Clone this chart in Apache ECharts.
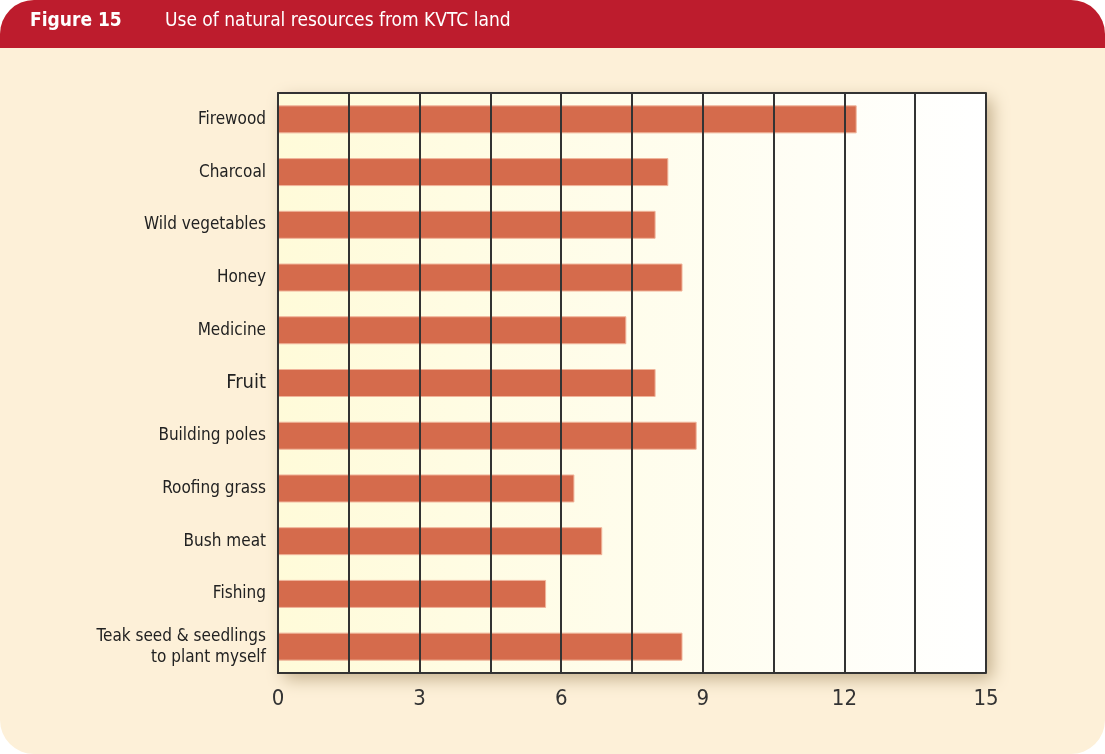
<!DOCTYPE html>
<html>
<head>
<meta charset="utf-8">
<script src="https://cdn.jsdelivr.net/npm/echarts@6/dist/echarts.min.js"></script>
<style>
  html, body { margin: 0; padding: 0; background: #fff; }
  #chart { width: 1105px; height: 754px; }
</style>
</head>
<body>
<div id="chart"></div>
<script>
const categories = [
  "Firewood", "Charcoal", "Wild vegetables", "Honey", "Medicine", "Fruit",
  "Building poles", "Roofing grass", "Bush meat", "Fishing",
  "Teak seed & seedlings\nto plant myself"
];
const values = [12.26, 8.27, 8.0, 8.57, 7.38, 8.0, 8.87, 6.28, 6.87, 5.68, 8.57];
const xTicks = [0, 3, 6, 9, 12, 15];

const font = "'Liberation Sans Narrow', 'DejaVu Sans Condensed', sans-serif";
const chart = echarts.init(document.getElementById("chart"));

const frameLine = {show: true, lineStyle: {color: "#333", width: 2}};

const option = {
  animation: false,
  graphic: [
    {
      type: "rect", z: -10, silent: true,
      shape: {x: 0, y: 0, width: 1105, height: 754, r: 34},
      style: {fill: "#fdf0d8"}
    },
    {
      type: "rect", z: -9, silent: true,
      shape: {x: 0, y: 0, width: 1105, height: 48, r: [34, 34, 0, 0]},
      style: {fill: "#bd1c2d"}
    },
    {
      type: "text", left: 30, top: 12, z: 10,
      style: {text: "Figure 15", fill: "#fff", font: "bold 19px " + font}
    },
    {
      type: "text", left: 165, top: 12, z: 10,
      style: {text: "Use of natural resources from KVTC land", fill: "#fff", font: "19px " + font}
    }
  ],
  grid: {
    left: 278, right: 119, top: 93, bottom: 81,
    show: true,
    borderWidth: 0,
    backgroundColor: {
      type: "linear", x: 0, y: 0, x2: 1, y2: 0,
      colorStops: [{offset: 0, color: "#fffbd9"}, {offset: 1, color: "#ffffff"}]
    },
    shadowColor: "rgba(110,80,30,0.4)", shadowBlur: 16, shadowOffsetX: 6, shadowOffsetY: 6
  },
  xAxis: [
    {
      type: "value", min: 0, max: 15, interval: 1.5, z: 5,
      axisLine: frameLine,
      axisTick: {show: false},
      splitLine: {show: true, lineStyle: {color: "#333", width: 2}},
      axisLabel: {
        margin: 15, color: "#333", fontSize: 22, fontFamily: font,
        formatter: v => (xTicks.indexOf(v) >= 0 ? String(v) : "")
      }
    },
    {
      type: "value", position: "top", min: 0, max: 15, interval: 1.5, z: 5,
      axisLine: frameLine,
      axisTick: {show: false}, axisLabel: {show: false}, splitLine: {show: false}
    }
  ],
  yAxis: {
    type: "category", data: categories, inverse: true,
    axisLine: frameLine,
    axisTick: {show: false},
    axisLabel: {
      margin: 12, color: "#222", fontSize: 17, fontFamily: font, lineHeight: 21,
      formatter: v => (v === "Fruit" ? "{big|" + v + "}" : v),
      rich: {big: {fontSize: 20, fontFamily: font, color: "#222"}}
    }
  },
  series: [{
    type: "bar", data: values, barWidth: 28,
    itemStyle: {color: "#d56b4c", borderColor: "#f0b49a", borderWidth: 1}
  }]
};

chart.setOption(option);
</script>
</body>
</html>
